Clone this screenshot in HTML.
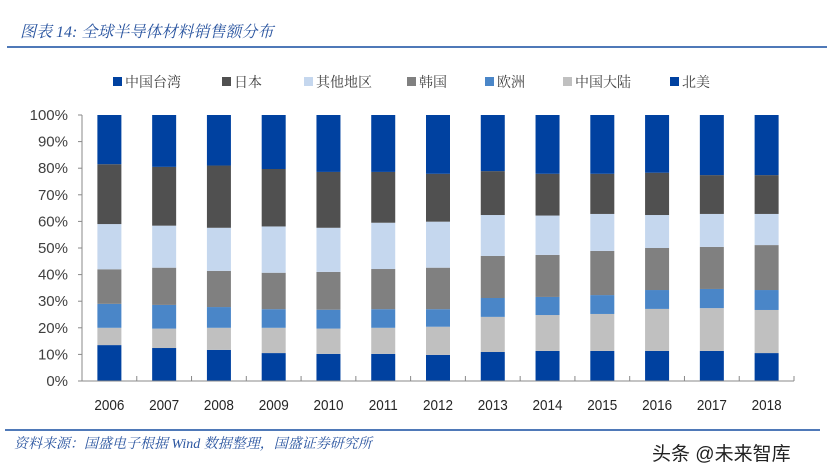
<!DOCTYPE html>
<html><head><meta charset="utf-8">
<style>
body{margin:0;background:#fff;width:827px;height:471px;overflow:hidden;font-family:"Liberation Sans","Noto Sans CJK SC",sans-serif;}
.title{position:absolute;left:20px;top:19px;font-size:16px;font-style:italic;color:#2a55a0;font-family:"Liberation Serif","Noto Serif CJK SC",serif;}
.src{position:absolute;left:14px;top:433px;font-size:14px;font-style:italic;color:#2a55a0;font-family:"Liberation Serif","Noto Serif CJK SC",serif;}
.wm{position:absolute;left:652px;top:439px;font-size:19px;color:#222;}
</style></head><body>
<div class="title">图表 14:  全球半导体材料销售额分布</div>
<div style="position:absolute;left:7px;top:46px;width:820px;height:2px;background:#4f79b8"></div>
<svg id="chart" width="827" height="471" style="position:absolute;left:0;top:0"></svg>
<div style="position:absolute;left:5px;top:429px;width:815px;height:2px;background:#4f79b8"></div>
<div class="src">资料来源：国盛电子根据 Wind 数据整理，国盛证券研究所</div>
<div class="wm">头条 @未来智库</div>
<script>
const years=["2006","2007","2008","2009","2010","2011","2012","2013","2014","2015","2016","2017","2018"];
const seriesNames=["中国台湾","中国大陆","欧洲","韩国","其他地区","日本","北美"];
const taiwan=[13.5,12.4,11.7,10.5,10.2,10.2,9.8,10.9,11.3,11.3,11.3,11.3,10.5];
const mainland=[6.5,7.3,8.3,9.5,9.5,9.8,10.6,13.2,13.5,13.9,15.8,16.1,16.2];
const europe=[9,8.9,7.8,7,7.1,7,6.6,7.1,6.8,7.1,7.1,7.2,7.5];
const korea=[13,14,13.6,13.7,14.2,15.1,15.6,15.8,15.8,16.6,15.8,15.8,16.9];
const other=[17,15.8,16.2,17.4,16.6,17.4,17.3,15.4,14.8,13.9,12.4,12.4,11.7];
const japan=[22.5,22.1,23.4,21.6,21,19.1,18,16.5,15.7,15.1,15.9,14.6,14.6];
const northAmerica=[18.5,19.5,19,20.3,21.4,21.4,22.1,21.1,22.1,22.1,21.7,22.6,22.6];
const yTicks=[0,10,20,30,40,50,60,70,80,90,100];
const colors={"中国台湾":"#0041a0","中国大陆":"#c0c0c0","欧洲":"#4a86c8","韩国":"#808080","其他地区":"#c5d7ee","日本":"#505050","北美":"#0041a0"};
const legendOrder=["中国台湾","日本","其他地区","韩国","欧洲","中国大陆","北美"];
const legendX=[113,222,304,407,485,563,670];
const series=[taiwan,mainland,europe,korea,other,japan,northAmerica];
const NS="http://www.w3.org/2000/svg";
const svg=document.getElementById('chart');
const x0=82,x1=794,yTop=115,yBot=381;
const bw=(x1-x0)/years.length, barW=24;
const y=v=>yBot-(v/100)*(yBot-yTop);
const xc=i=>x0+bw*(i+0.5);
function mk(t,a){const e=document.createElementNS(NS,t);for(const k in a)e.setAttribute(k,a[k]);svg.appendChild(e);return e;}
yTicks.forEach(t=>{
 const tx=mk('text',{x:68,y:y(t)+5,'text-anchor':'end','font-size':15,fill:'#404040','font-family':'Liberation Sans, sans-serif'});
 tx.textContent=t+'%';
 
 
 const tk=mk('line',{x1:x0-4,x2:x0,y1:y(t),y2:y(t),stroke:'#888'});
 
 
});
years.forEach((yr,i)=>{
 let cum=0;
 series.forEach((s,j)=>{
  const v=s[i];
  const r=mk('rect',{x:xc(i)-barW/2,y:y(cum+v),width:barW,height:y(cum)-y(cum+v),fill:colors[seriesNames[j]]});
  
  
  cum+=v;
 });
 const tx=mk('text',{x:xc(i),y:410,'text-anchor':'middle','font-size':15,fill:'#262626','font-family':'Liberation Sans, sans-serif',transform:`translate(${xc(i)},0) scale(0.9,1) translate(${-xc(i)},0)`});
 tx.textContent=yr;
 
 
 const tk=mk('line',{x1:x0+bw*(i+1),x2:x0+bw*(i+1),y1:yBot,y2:yBot-5,stroke:'#888'});
 
 
});
const ax=mk('line',{x1:x0,x2:x0,y1:yTop,y2:yBot,stroke:'#888'});


const bx=mk('line',{x1:x0,x2:x1,y1:yBot,y2:yBot,stroke:'#888'});


legendOrder.forEach((n,i)=>{
 const r=mk('rect',{x:legendX[i],y:77,width:9,height:9,fill:colors[n]});
 
 
 const t=mk('text',{x:legendX[i]+12,y:87,'font-size':14,fill:'#404040','font-family':'Noto Serif CJK SC, serif'});
 t.textContent=n;
 
 
});
</script>
</body></html>
